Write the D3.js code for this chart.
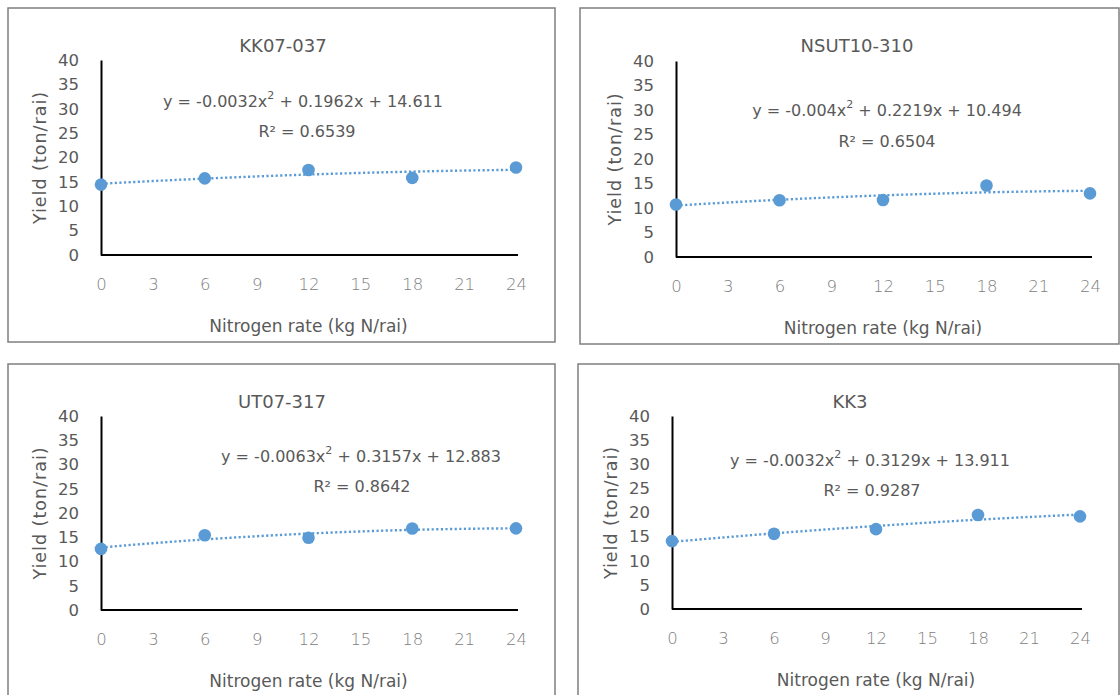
<!DOCTYPE html>
<html>
<head>
<meta charset="utf-8">
<script src="https://cdn.jsdelivr.net/npm/d3@7/dist/d3.min.js"></script>
<style>
  html, body { margin: 0; padding: 0; background: #ffffff; }
  svg { display: block; font-family: "DejaVu Sans", "Noto Sans", sans-serif; }
</style>
</head>
<body>
<svg id="chart" width="1120" height="695"></svg>
<script>
// Nitrogen rates applied (kg N/rai) and axis ticks
const nitrogenRates = [0, 6, 12, 18, 24];
const xTicks = [0, 3, 6, 9, 12, 15, 18, 21, 24];
const yTicks = [0, 5, 10, 15, 20, 25, 30, 35, 40];

// Varieties, one panel each
const varieties = ["KK07-037", "NSUT10-310", "UT07-317", "KK3"];

// Yield (ton/rai) at each nitrogen rate
const yieldKK07037 = [14.44, 15.71, 17.44, 15.82, 17.96];
const yieldNSUT10310 = [10.71, 11.57, 11.62, 14.59, 12.98];
const yieldUT07317 = [12.60, 15.41, 14.91, 16.81, 16.83];
const yieldKK3 = [14.07, 15.58, 16.55, 19.48, 19.20];

// Polynomial trendline coefficients [a, b, c] for y = a x^2 + b x + c
const fitKK07037 = [-0.0032, 0.1962, 14.611];
const fitNSUT10310 = [-0.004, 0.2219, 10.494];
const fitUT07317 = [-0.0063, 0.3157, 12.883];
const fitKK3 = [-0.0032, 0.3129, 13.911];

// Coefficient of determination of each trendline
const r2Values = ["0.6539", "0.6504", "0.8642", "0.9287"];

const yieldSeries = [yieldKK07037, yieldNSUT10310, yieldUT07317, yieldKK3];
const fitSeries = [fitKK07037, fitNSUT10310, fitUT07317, fitKK3];

// Panel geometry
const panels = [
  { box: [8, 8, 547, 334],     left: 101, right: 516,  top: 60,  bottom: 255, titleX: 283, eqX: 303, eqY: 101, r2X: 307, r2Y: 131 },
  { box: [580, 8, 539, 336],   left: 676, right: 1090, top: 61,  bottom: 257, titleX: 857, eqX: 887, eqY: 110, r2X: 887, r2Y: 141 },
  { box: [8, 364, 547, 340],   left: 101, right: 516,  top: 416, bottom: 610, titleX: 282, eqX: 361, eqY: 456, r2X: 362, r2Y: 486 },
  { box: [578, 364, 541, 340], left: 672, right: 1080, top: 416, bottom: 609, titleX: 850, eqX: 870, eqY: 460, r2X: 872, r2Y: 490 }
];

const markColor = "#5b9bd5";
const textColor = "#595959";

const svg = d3.select("#chart");

function fmtCoef(v) {
  return String(Math.abs(v));
}

panels.forEach((p, i) => {
  const g = svg.append("g");
  const [bx, by, bw, bh] = p.box;

  g.append("rect")
    .attr("x", bx).attr("y", by).attr("width", bw).attr("height", bh)
    .attr("fill", "#fff").attr("stroke", "#7f7f7f").attr("stroke-width", 1.5);

  const x = d3.scaleLinear().domain([0, 24]).range([p.left, p.right]);
  const y = d3.scaleLinear().domain([0, 40]).range([p.bottom, p.top]);

  // Title
  g.append("text")
    .attr("x", p.titleX)
    .attr("y", by + 37)
    .attr("text-anchor", "middle")
    .attr("dominant-baseline", "central")
    .attr("font-size", 18)
    .attr("fill", textColor)
    .text(varieties[i]);

  // Y axis
  const yAxis = g.append("g")
    .attr("transform", `translate(${p.left},0)`)
    .call(d3.axisLeft(y).tickValues(yTicks).tickSize(0).tickPadding(22));
  yAxis.select(".domain").attr("stroke", "#000").attr("stroke-width", 2);
  yAxis.selectAll("text").attr("font-size", 16.5).attr("fill", textColor)
    .attr("font-family", "DejaVu Sans, sans-serif");

  // X axis
  const xAxis = g.append("g")
    .attr("transform", `translate(0,${p.bottom})`)
    .call(d3.axisBottom(x).tickValues(xTicks).tickSize(0).tickPadding(23));
  xAxis.select(".domain").attr("stroke", "#000").attr("stroke-width", 2)
    .attr("d", `M${p.left},0H${p.right + 2}`);
  xAxis.selectAll("text").attr("font-size", 16.5).attr("fill", "#808080").attr("font-weight", 200)
    .attr("font-family", "DejaVu Sans, sans-serif");

  // Axis titles
  g.append("text")
    .attr("x", (p.left + p.right) / 2)
    .attr("y", p.bottom + 71)
    .attr("text-anchor", "middle")
    .attr("dominant-baseline", "central")
    .attr("font-size", 17)
    .attr("fill", textColor)
    .text("Nitrogen rate (kg N/rai)");

  g.append("text")
    .attr("transform", `translate(${p.left - 61},${(p.top + p.bottom) / 2}) rotate(-90)`)
    .attr("text-anchor", "middle")
    .attr("dominant-baseline", "central")
    .attr("font-size", 17.5)
    .attr("letter-spacing", 1)
    .attr("fill", textColor)
    .text("Yield (ton/rai)");

  // Trendline from the stated polynomial
  const [a, b, c] = fitSeries[i];
  const curve = d3.range(0, 24.001, 0.5).map(v => [v, a * v * v + b * v + c]);
  g.append("path")
    .datum(curve)
    .attr("fill", "none")
    .attr("stroke", markColor)
    .attr("stroke-width", 2.4)
    .attr("stroke-dasharray", "2.2,2.4")
    .attr("d", d3.line().x(d => x(d[0])).y(d => y(d[1])));

  // Observed yields
  g.selectAll("circle.obs")
    .data(nitrogenRates.map((n, k) => [n, yieldSeries[i][k]]))
    .join("circle")
    .attr("class", "obs")
    .attr("cx", d => x(d[0]))
    .attr("cy", d => y(d[1]))
    .attr("r", 6.3)
    .attr("fill", markColor);

  // Equation and R²
  const eq = g.append("text")
    .attr("x", p.eqX).attr("y", p.eqY)
    .attr("text-anchor", "middle")
    .attr("dominant-baseline", "central")
    .attr("font-size", 16)
    .attr("fill", textColor);
  eq.append("tspan").text(`y = ${a < 0 ? "-" : ""}${fmtCoef(a)}x`);
  eq.append("tspan").attr("dy", -6).attr("font-size", 11).text("2");
  eq.append("tspan").attr("dy", 6).text(` ${b < 0 ? "-" : "+"} ${fmtCoef(b)}x ${c < 0 ? "-" : "+"} ${fmtCoef(c)}`);

  g.append("text")
    .attr("x", p.r2X).attr("y", p.r2Y)
    .attr("text-anchor", "middle")
    .attr("dominant-baseline", "central")
    .attr("font-size", 16)
    .attr("fill", textColor)
    .text(`R² = ${r2Values[i]}`);
});
</script>
</body>
</html>
